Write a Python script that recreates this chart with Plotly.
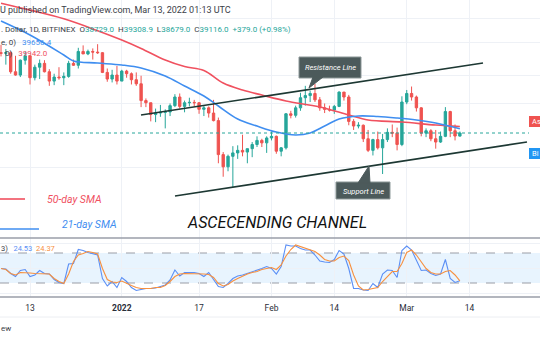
import plotly.graph_objects as go
import pandas as pd

# ---------------- data ----------------
dates = pd.date_range("2021-12-07", "2022-03-12", freq="D")

opens = [50600, 50500, 50600, 47600, 47100, 49400, 50100, 46700, 48300, 48900, 47600, 46200, 46800, 46700, 46900, 48900, 48600, 50800, 50400, 50800, 50700, 50600, 47500, 46500, 47100,
         46200, 47700, 47300, 46400, 45800, 43400, 43100, 41500, 41700, 41800, 41850, 42700, 43900, 42600, 43100, 43150, 43100, 42200, 42400, 41700, 40700, 36500, 35100, 36300, 36700, 37000, 36800, 37200, 37700, 38200, 37900,
         38500, 38700, 36900, 37300, 41600, 41400, 42400, 43800, 44100, 44400, 43500, 42400, 42200, 42100, 42600, 44600, 43900, 40600, 40000, 40100, 38400, 37000, 38300, 37300, 38300, 39200, 39100, 37700,
         43200, 44400, 43900, 42400, 39100, 39400, 38400, 38000, 38700, 41900, 39400, 38729]
highs = [51900, 51200, 50800, 50100, 49500, 50800, 50200, 48700, 49500, 49400, 48000, 47300, 48300, 47500, 49300, 49500, 51400, 51800, 51100, 51300, 52000, 50700, 48100, 47900, 48500,
         47900, 47900, 47500, 47500, 47000, 43700, 43100, 42300, 42800, 42200, 43000, 44300, 44400, 43400, 43800, 43500, 43200, 42700, 42600, 43500, 41100, 36800, 36500, 37500, 37600, 38900, 37200, 38000, 38700, 38400, 38700,
         39300, 38800, 37400, 41700, 42000, 42700, 44500, 45500, 44800, 45800, 43900, 43000, 42700, 42800, 44700, 44600, 44200, 40900, 40500, 40200, 39500, 38400, 39300, 39000, 39700, 40200, 39800, 44000,
         44900, 45400, 44100, 42500, 39700, 39600, 39500, 39300, 42500, 42000, 40200, 39308.9]
lows = [50000, 48700, 47300, 47000, 46800, 48700, 45700, 46300, 46500, 47500, 45500, 45600, 46400, 45600, 46700, 48500, 48100, 50500, 50200, 49500, 50400, 47400, 46100, 46000, 45700,
        46200, 46700, 45700, 45500, 42500, 42500, 40600, 40500, 41200, 39700, 41300, 42500, 42300, 41800, 42600, 42600, 41600, 41300, 41100, 40600, 35500, 34000, 34600, 32900, 36000, 36300, 35500, 36200, 37400, 37400, 36700,
        38200, 36600, 36300, 37100, 41000, 41100, 42000, 42700, 43200, 43200, 42000, 41700, 41900, 41600, 42500, 43400, 40100, 39500, 39700, 38000, 36800, 36400, 37100, 34300, 38000, 38600, 37000, 37500,
        42900, 43400, 41900, 38700, 38600, 38100, 37200, 37900, 38600, 38600, 38200, 38679]
closes = [50500, 50600, 47600, 47100, 49400, 50100, 46700, 48300, 48900, 47600, 46200, 46800, 46700, 46900, 48900, 48600, 50800, 50400, 50800, 50700, 50600, 47500, 46500, 47100, 46200,
          47700, 47300, 46400, 45800, 43400, 43100, 41500, 41700, 41800, 41850, 42700, 43900, 42600, 43100, 43150, 43100, 42200, 42400, 41700, 40700, 36500, 35100, 36300, 36700, 37000, 36800, 37200, 37700, 38200, 37900, 38500,
          38700, 36900, 37300, 41600, 41400, 42400, 43800, 44100, 44400, 43500, 42400, 42200, 42100, 42600, 44600, 43900, 40600, 40000, 40100, 38400, 37000, 38300, 37300, 38300, 39200, 39100, 37700, 43200,
          44400, 43900, 42400, 39100, 39400, 38400, 38000, 38700, 41900, 39400, 38737, 39116]

sma21_dates = ["2021-12-07", "2021-12-13", "2021-12-20", "2021-12-22", "2021-12-27", "2022-01-01", "2022-01-05", "2022-01-10", "2022-01-14", "2022-01-18", "2022-01-21", "2022-01-25", "2022-01-29",
               "2022-02-02", "2022-02-06", "2022-02-09", "2022-02-12", "2022-02-15", "2022-02-19", "2022-02-23", "2022-02-27", "2022-03-03", "2022-03-07", "2022-03-12"]
sma21_vals = [56000, 53550, 50230, 49270, 48950, 48640, 48180, 46950, 45480, 44040, 42650, 40910, 40000,
              39240, 38870, 39116, 40000, 40910, 41310, 41240, 41040, 40780, 40390, 39656.4]

sma50_dates = ["2021-12-07", "2021-12-13", "2021-12-20", "2021-12-27", "2022-01-01", "2022-01-05", "2022-01-10", "2022-01-14", "2022-01-18", "2022-01-22", "2022-01-26", "2022-01-30",
               "2022-02-04", "2022-02-11", "2022-02-17", "2022-02-21", "2022-02-28", "2022-03-07", "2022-03-12"]
sma50_vals = [59300, 58000, 56400, 54300, 52700, 51300, 49430, 48400, 47800, 45910, 44900, 44180,
              43340, 42520, 41440, 40780, 40520, 40130, 39942.0]

stoch_k = [49, 48, 39, 33, 45, 47, 33, 36, 45, 39, 38, 27, 21, 19, 58, 59, 87, 85, 81, 79, 76, 29, 14, 23, 11,
           31, 23, 11, 5, 7, 9, 9, 10, 13, 16, 26, 46, 34, 41, 41, 41, 39, 33, 41, 27, 13, 11, 19, 29, 34, 36, 39, 43, 46, 49, 53,
           49, 38, 53, 96, 94, 94, 89, 86, 86, 76, 64, 62, 61, 67, 85, 78, 49, 9, 9, 6, 5, 19, 11, 38, 46, 45, 31, 85,
           94, 86, 67, 45, 46, 39, 35, 38, 67, 29, 21, 24.53]
stoch_d = [49, 47, 39, 36, 41, 41, 40, 39, 39, 39, 38, 29, 23, 19, 38, 63, 76, 79, 83, 81, 78, 49, 27, 22, 21,
           24, 19, 15, 11, 9, 9, 9, 11, 11, 15, 23, 33, 38, 39, 39, 39, 38, 38, 37, 31, 19, 14, 17, 24, 29, 34, 38, 41, 43, 47, 49,
           51, 47, 56, 74, 87, 96, 93, 89, 87, 83, 76, 67, 64, 64, 71, 74, 65, 36, 14, 6, 7, 9, 11, 23, 34, 43, 43, 59,
           81, 86, 76, 63, 49, 41, 38, 38, 43, 45, 36, 24.37]

tick_dates = ["2021-12-13", "2022-01-01", "2022-01-17", "2022-02-01", "2022-02-14", "2022-03-01", "2022-03-14"]
tick_text = ["13", "<b>2022</b>", "17", "Feb", "14", "Mar", "14"]
grid_prices = [56550, 52200, 47100, 43060, 34970]
last_close = 39116

# ---------------- styling ----------------
W, H = 540, 340
GREEN = "#26a69a"
RED = "#ef5350"
BLUE = "#3f8ef0"
SMA_RED = "#f0515f"
K_BLUE = "#5b8ff5"
D_ORANGE = "#f7903f"
GRID = "#eef1f6"
CH = "#1d3833"
FONT = "Roboto"

t0 = pd.Timestamp("2021-12-13")
PX_DAY = 4.83


def xd(px):  # pixel x -> date
    return t0 + pd.Timedelta(days=(px - 30) / PX_DAY)


def px_(x):
    return x / W


def py_(y):
    return 1 - y / H


X_RANGE = [xd(0), xd(540)]
Y_RANGE = [4.4462, 4.7775]

fig = go.Figure()

fig.add_trace(go.Candlestick(
    x=dates, open=opens, high=highs, low=lows, close=closes,
    increasing=dict(line=dict(color=GREEN, width=1), fillcolor=GREEN),
    decreasing=dict(line=dict(color=RED, width=1), fillcolor=RED),
    whiskerwidth=0, xaxis="x", yaxis="y", showlegend=False, hoverinfo="skip"))

fig.add_trace(go.Scatter(x=sma50_dates, y=sma50_vals, mode="lines", line=dict(color=SMA_RED, width=1.6, shape="spline"),
                         xaxis="x", yaxis="y", hoverinfo="skip"))
fig.add_trace(go.Scatter(x=sma21_dates, y=sma21_vals, mode="lines", line=dict(color=BLUE, width=1.6, shape="spline"),
                         xaxis="x", yaxis="y", hoverinfo="skip"))

# current price dotted line
fig.add_trace(go.Scatter(x=[xd(0), xd(529)], y=[last_close, last_close], mode="lines",
                         line=dict(color=GREEN, width=1, dash="dot"), xaxis="x", yaxis="y", hoverinfo="skip"))

# channel lines (drawings)
fig.add_trace(go.Scatter(x=[xd(141), xd(483)], y=[41440, 48950], mode="lines",
                         line=dict(color=CH, width=1.6), xaxis="x", yaxis="y", hoverinfo="skip"))
fig.add_trace(go.Scatter(x=[xd(175), xd(527)], y=[31960, 38005], mode="lines",
                         line=dict(color=CH, width=1.6), xaxis="x", yaxis="y", hoverinfo="skip"))

# stoch RSI
fig.add_trace(go.Scatter(x=dates, y=stoch_k, mode="lines", line=dict(color=K_BLUE, width=1.1),
                         xaxis="x2", yaxis="y2", hoverinfo="skip"))
fig.add_trace(go.Scatter(x=dates, y=stoch_d, mode="lines", line=dict(color=D_ORANGE, width=1.1),
                         xaxis="x2", yaxis="y2", hoverinfo="skip"))

shapes = []
# stoch band & levels
shapes.append(dict(type="rect", xref="paper", yref="y2", x0=0, x1=1, y0=20, y1=80,
                   fillcolor="rgba(33,150,243,0.10)", line=dict(width=0), layer="below"))
for lv in (80, 20):
    shapes.append(dict(type="line", xref="paper", yref="y2", x0=0, x1=1, y0=lv, y1=lv,
                       line=dict(color="#9a9da6", width=1, dash="dash"), layer="below"))
# pane separators
for yy in (238, 297):
    shapes.append(dict(type="line", xref="paper", yref="paper", x0=0, x1=1, y0=py_(yy), y1=py_(yy),
                       line=dict(color="#9a9ea8", width=1.6)))
shapes.append(dict(type="line", xref="paper", yref="paper", x0=0, x1=1, y0=py_(317), y1=py_(317),
                   line=dict(color="#eceef2", width=1)))
# legend-like sample lines
shapes.append(dict(type="line", xref="paper", yref="paper", x0=0, x1=px_(25), y0=py_(199), y1=py_(199),
                   line=dict(color=SMA_RED, width=1.6)))
shapes.append(dict(type="line", xref="paper", yref="paper", x0=0, x1=px_(39), y0=py_(229), y1=py_(229),
                   line=dict(color=BLUE, width=1.6)))


def callout(x0, y0, x1, y1, tail):
    path = "M %f %f L %f %f L %f %f L %f %f Z" % (px_(x0), py_(y0), px_(x1), py_(y0), px_(x1), py_(y1), px_(x0), py_(y1))
    shapes.append(dict(type="path", xref="paper", yref="paper", path=path,
                       fillcolor="#4c5a5b", line=dict(color="#8d9899", width=1)))
    (ax, ay), (bx, by), (cx, cy) = tail
    tp = "M %f %f L %f %f L %f %f Z" % (px_(ax), py_(ay), px_(bx), py_(by), px_(cx), py_(cy))
    shapes.append(dict(type="path", xref="paper", yref="paper", path=tp,
                       fillcolor="#4c5a5b", line=dict(color="#4c5a5b", width=1)))


callout(299, 57, 361, 78, [(313, 77), (323, 77), (309, 88)])
callout(336, 182, 390, 199, [(358, 183), (370, 183), (369, 166)])

# right price-scale labels
shapes.append(dict(type="rect", xref="paper", yref="paper", x0=px_(529), x1=px_(548), y0=py_(127), y1=py_(116),
                   fillcolor=RED, line=dict(width=0)))
shapes.append(dict(type="rect", xref="paper", yref="paper", x0=px_(529), x1=px_(548), y0=py_(159), y1=py_(148),
                   fillcolor="#2196f3", line=dict(width=0)))

ann = []


def text(x, y, s, size, color, anchor="left", italic=False, family=FONT):
    ann.append(dict(x=px_(x), y=py_(y), xref="paper", yref="paper", text=s, showarrow=False,
                    xanchor=anchor, yanchor="middle",
                    font=dict(size=size, color=color, family=family, style="italic" if italic else "normal")))


text(-2, 10, "U published on TradingView.com, Mar 13, 2022 01:13 UTC", 9, "#3b3e47")
g = GREEN
text(-1, 29, ". Dollar, 1D, BITFINEX&nbsp; O<span style='color:%s'>38729.0</span>&nbsp; H<span style='color:%s'>39308.9</span>&nbsp; "
             "L<span style='color:%s'>38679.0</span>&nbsp; C<span style='color:%s'>39116.0</span>&nbsp; <span style='color:%s'>+379.0 (+0.98%%)</span>"
     % (g, g, g, g, g), 8, "#3b3e47")
text(-1, 42, "e, 0)&nbsp;&nbsp; <span style='color:%s'>39656.4</span>" % BLUE, 8, "#3b3e47")
text(3, 53, "0)&nbsp;&nbsp; <span style='color:%s'>39942.0</span>" % SMA_RED, 8, "#3b3e47")
text(-1, 249, "3)&nbsp;&nbsp; <span style='color:%s'>24.53</span>&nbsp; <span style='color:%s'>24.37</span>" % (K_BLUE, D_ORANGE), 7.5, "#3b3e47")
text(45, 199, "50-day SMA", 10.5, SMA_RED, italic=True)
text(60, 224, "21-day SMA", 10.5, BLUE, italic=True)
text(277, 222, "ASCECENDING CHANNEL", 16, "#111111", anchor="center", italic=True)
text(330, 67.5, "Resistance Line", 7.5, "#ffffff", anchor="center", italic=True)
text(363, 191, "Support Line", 7.5, "#ffffff", anchor="center", italic=True)
text(530, 121.5, "As", 7.5, "#ffffff")
text(530, 153.5, "Bi", 7.5, "#ffffff")
text(-1, 328, "ew", 8, "#3b3e47")

fig.update_layout(
    width=W, height=H, margin=dict(l=0, r=0, t=0, b=0),
    paper_bgcolor="white", plot_bgcolor="white", showlegend=False,
    xaxis=dict(domain=[0, 1], range=X_RANGE, type="date", anchor="y", tickvals=tick_dates, showticklabels=False,
               showgrid=True, gridcolor=GRID, zeroline=False, ticks="", rangeslider=dict(visible=False), fixedrange=True),
    yaxis=dict(domain=[0.3, 1], type="log", range=Y_RANGE, tickvals=grid_prices, showticklabels=False,
               showgrid=True, gridcolor=GRID, zeroline=False, ticks="", fixedrange=True),
    xaxis2=dict(domain=[0, 1], range=X_RANGE, type="date", anchor="y2", matches="x", tickvals=tick_dates, ticktext=tick_text,
                showgrid=True, gridcolor=GRID, zeroline=False, ticks="", ticklabelstandoff=4,
                tickfont=dict(size=8.5, color="#2a2e39", family=FONT), fixedrange=True),
    yaxis2=dict(domain=[1 - 297 / H, 0.3], range=[-8, 110], tickvals=[50, 100, 0], showticklabels=False,
                showgrid=True, gridcolor=GRID, zeroline=False, ticks="", fixedrange=True),
    shapes=shapes, annotations=ann,
)

fig.write_html("out.html", config={"displayModeBar": False, "staticPlot": True})
